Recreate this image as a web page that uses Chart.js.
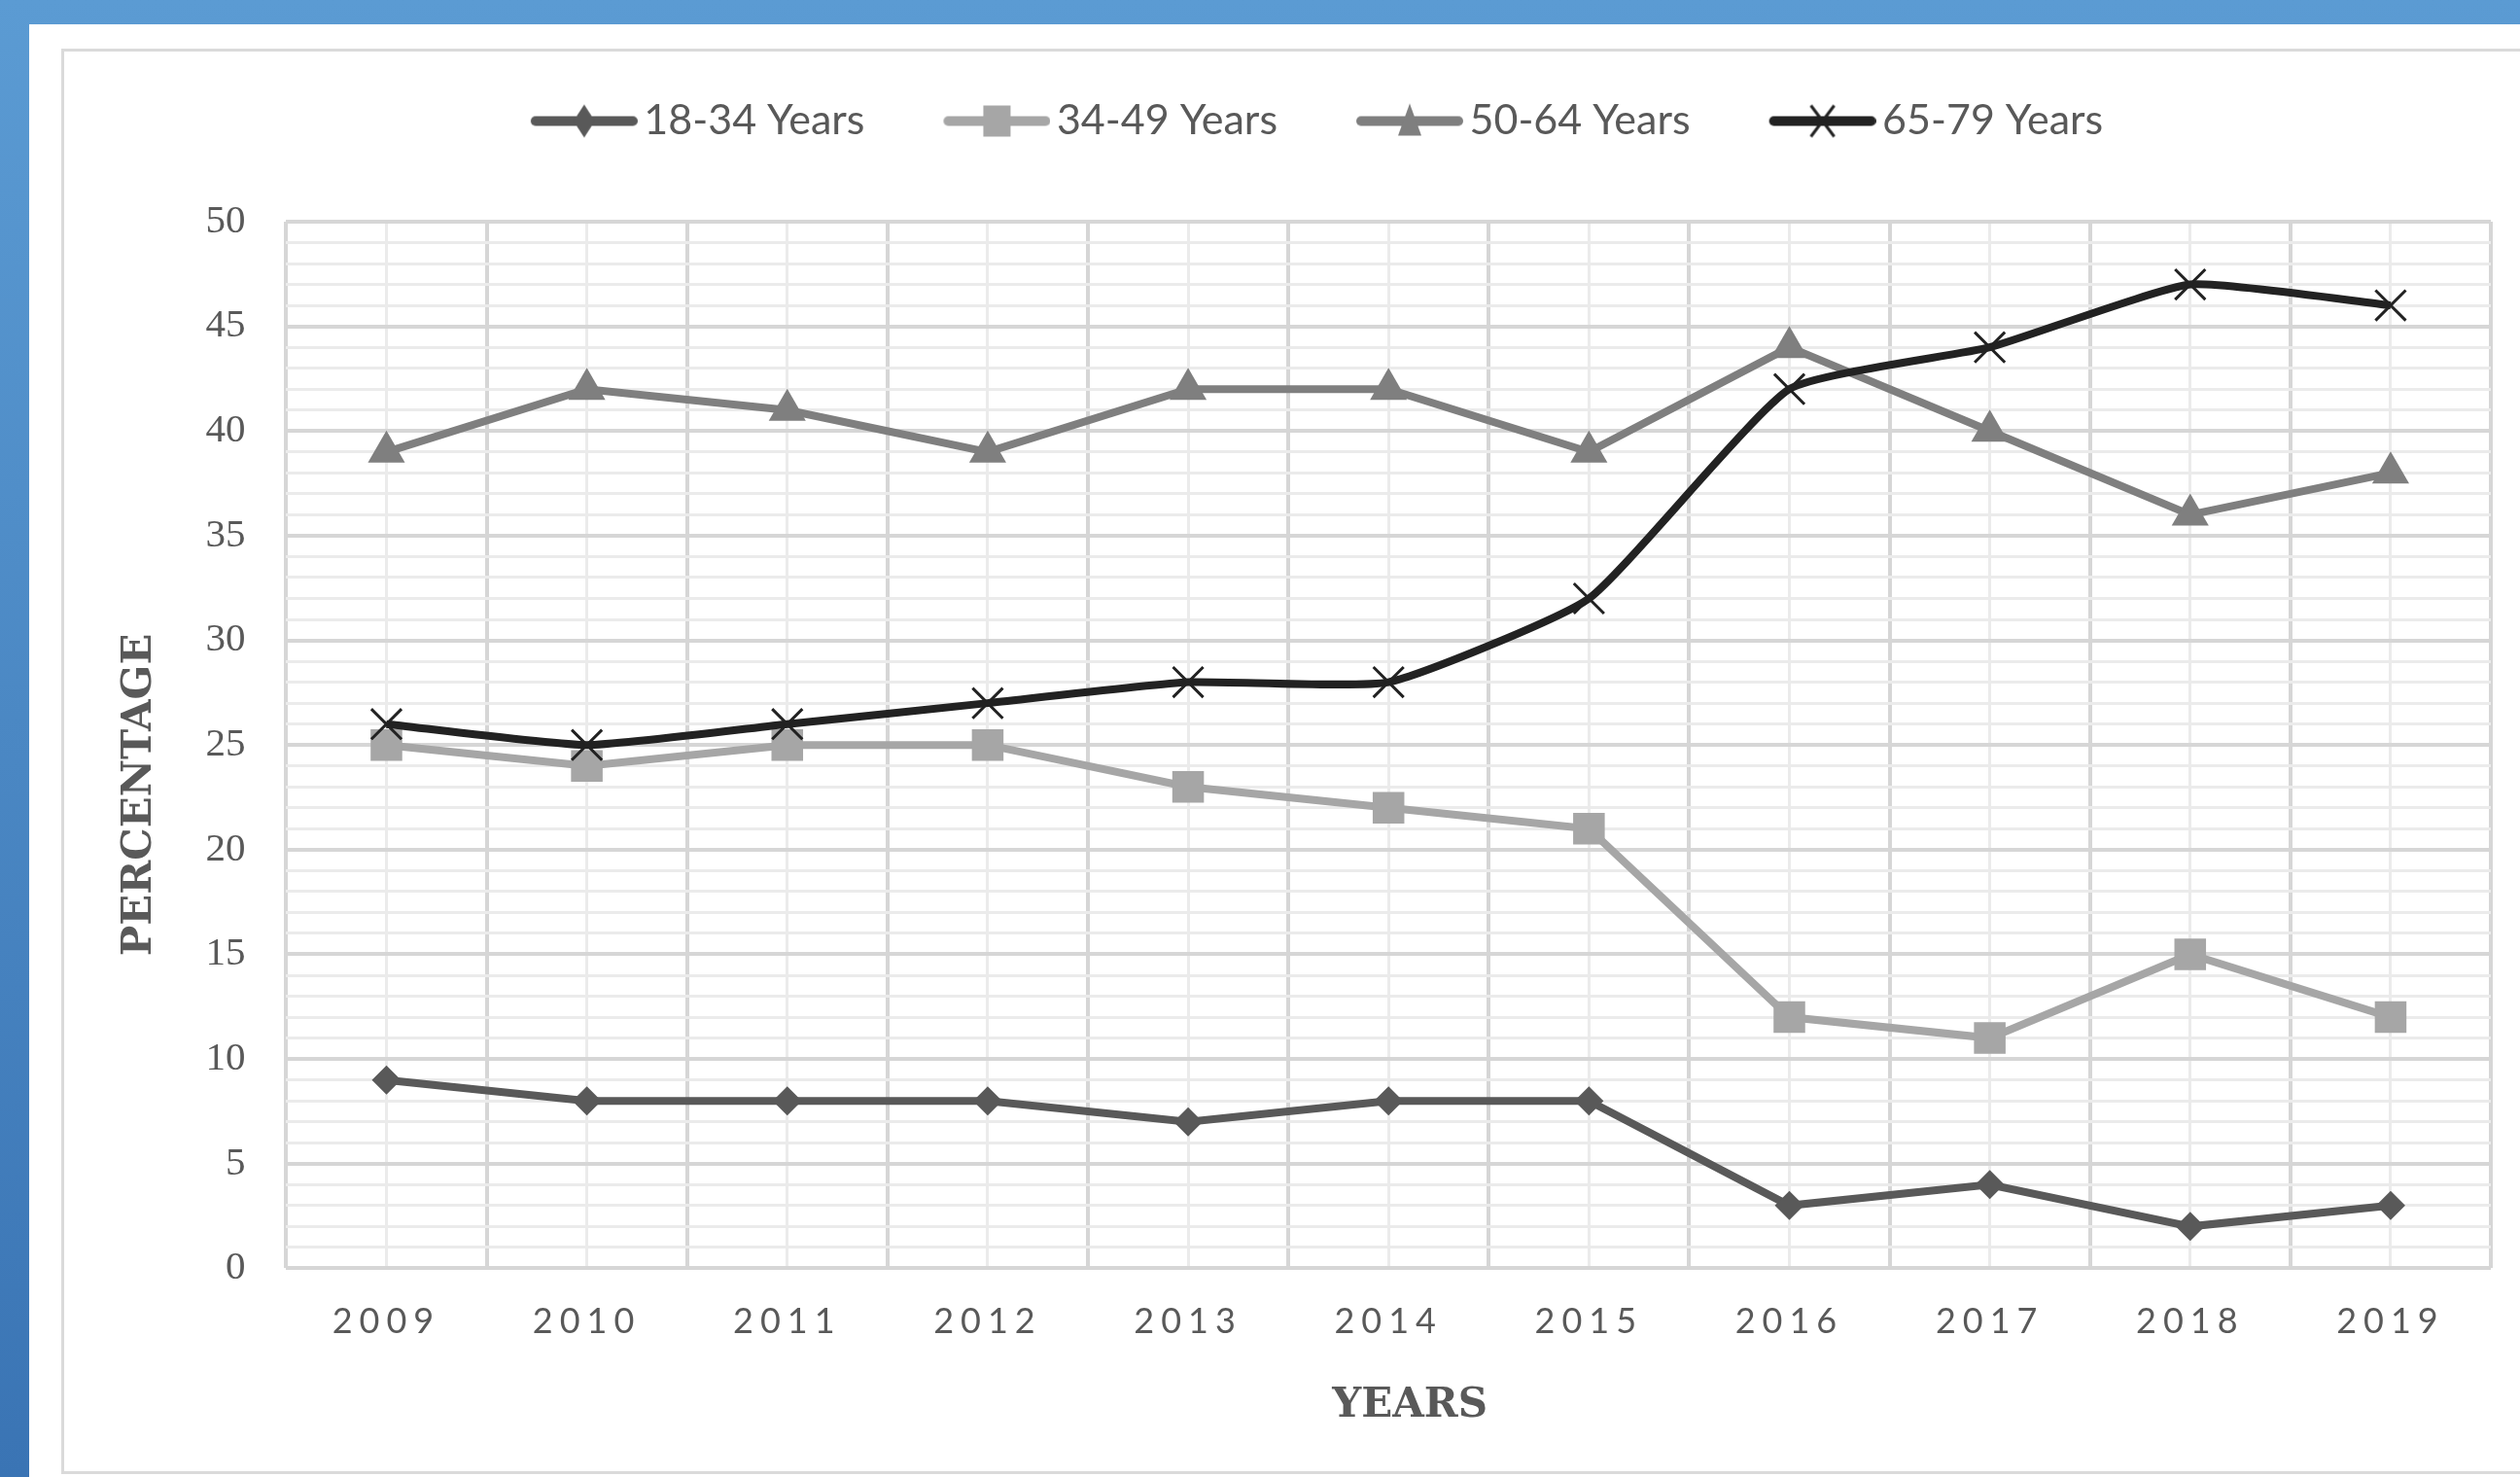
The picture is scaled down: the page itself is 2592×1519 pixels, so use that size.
<!DOCTYPE html>
<html>
<head>
<meta charset="utf-8">
<script src="https://cdn.jsdelivr.net/npm/chart.js@4.4.0/dist/chart.umd.min.js"></script>
<style>
    html, body { margin: 0; padding: 0; }
    body {
        width: 2592px; height: 1519px; overflow: hidden; position: relative;
        background: linear-gradient(to bottom, #5b9bd3, #3a74b4);
    }
    #panel { position: absolute; left: 30px; top: 25px; right: 0; bottom: 0; background: #fff; }
    #box {
        position: absolute; left: 63px; top: 50px; width: 2574px; height: 1466px;
        border: 3px solid #dadada; box-sizing: border-box; background: #fff;
    }
    #box canvas { display: block; }
</style>
</head>
<body>
<div id="panel"></div>
<div id="box"><canvas id="chartAges" width="2568" height="1460"></canvas></div>
<script>
// Datos del gráfico
const years = ['2009', '2010', '2011', '2012', '2013', '2014', '2015', '2016', '2017', '2018', '2019'];
const seriesNames = ['18-34 Years', '34-49 Years', '50-64 Years', '65-79 Years'];
const age18to34 = [9, 8, 8, 8, 7, 8, 8, 3, 4, 2, 3];
const age34to49 = [25, 24, 25, 25, 23, 22, 21, 12, 11, 15, 12];
const age50to64 = [39, 42, 41, 39, 42, 42, 39, 44, 40, 36, 38];
const age65to79 = [26, 25, 26, 27, 28, 28, 32, 42, 44, 47, 46];

const textGray = '#595959';

// Estilo de cada serie
const seriesStyles = [
    { color: '#595959', marker: 'rectRot', radius: 15, border: 0, tension: 0 },
    { color: '#a6a6a6', marker: 'rect', radius: 23, border: 0, tension: 0 },
    { color: '#7f7f7f', marker: 'triangle', radius: 22, border: 0, tension: 0 },
    { color: '#222222', marker: 'crossRot', radius: 22, border: 3, tension: 0.15 }
];
const seriesData = [age18to34, age34to49, age50to64, age65to79];

// Icono de leyenda estilo Excel: línea con marcador en el centro
const makeLegendIcon = (style) => {
    const c = document.createElement('canvas');
    c.width = 186; c.height = 40;
    const g = c.getContext('2d');
    const cx = 131, cy = 20;
    g.strokeStyle = style.color;
    g.fillStyle = style.color;
    g.lineCap = 'round';
    g.lineWidth = 10;
    g.beginPath(); g.moveTo(81, cy); g.lineTo(181, cy); g.stroke();
    g.beginPath();
    if (style.marker === 'rectRot') {
        g.moveTo(cx, cy - 17); g.lineTo(cx + 11, cy); g.lineTo(cx, cy + 17); g.lineTo(cx - 11, cy);
        g.closePath(); g.fill();
    } else if (style.marker === 'rect') {
        g.rect(cx - 14, cy - 16, 28, 32); g.fill();
    } else if (style.marker === 'triangle') {
        g.moveTo(cx, cy - 18); g.lineTo(cx + 12, cy + 15); g.lineTo(cx - 12, cy + 15);
        g.closePath(); g.fill();
    } else {
        g.lineWidth = 3; g.lineCap = 'butt';
        g.moveTo(cx - 12, cy - 16); g.lineTo(cx + 12, cy + 16);
        g.moveTo(cx + 12, cy - 16); g.lineTo(cx - 12, cy + 16);
        g.stroke();
    }
    return c;
};
const legendIcons = seriesStyles.map(makeLegendIcon);

// Espacio extra bajo la leyenda
const legendMargin = {
    id: 'legendMargin',
    beforeInit(chart) {
        const fit = chart.legend.fit;
        chart.legend.fit = function () {
            fit.bind(chart.legend)();
            this.height += 72;
        };
    }
};

// Espaciado de letras en las etiquetas del eje X
const xLabelSpacing = {
    id: 'xLabelSpacing',
    afterDatasetsDraw(chart) { chart.ctx.letterSpacing = '7px'; },
    afterDraw(chart) { chart.ctx.letterSpacing = '0px'; }
};

const datasets = seriesNames.map((name, i) => ({
    label: name,
    data: seriesData[i],
    xAxisID: 'x',
    yAxisID: 'y',
    borderColor: seriesStyles[i].color,
    backgroundColor: seriesStyles[i].color,
    borderWidth: 8,
    tension: seriesStyles[i].tension,
    pointStyle: seriesStyles[i].marker,
    pointRadius: seriesStyles[i].radius,
    pointHoverRadius: seriesStyles[i].radius,
    pointBorderWidth: seriesStyles[i].border,
    pointBackgroundColor: seriesStyles[i].color,
    pointBorderColor: seriesStyles[i].color,
    order: seriesNames.length - i,
    fill: false
}));

new Chart(document.getElementById('chartAges'), {
    type: 'line',
    data: { labels: years, datasets },
    plugins: [legendMargin, xLabelSpacing],
    options: {
        responsive: false,
        animation: false,
        layout: { padding: { top: 30, left: 20, right: 72, bottom: 42 } },
        plugins: {
            tooltip: { enabled: false },
            legend: {
                position: 'top',
                labels: {
                    usePointStyle: true,
                    pointStyleWidth: 156,
                    padding: 20,
                    color: textGray,
                    font: { family: 'Lato', size: 43 },
                    generateLabels: (chart) => chart.data.datasets.map((ds, i) => ({
                        text: ds.label,
                        fillStyle: ds.borderColor,
                        strokeStyle: ds.borderColor,
                        lineWidth: 0,
                        pointStyle: legendIcons[i],
                        fontColor: textGray,
                        hidden: false,
                        datasetIndex: i
                    }))
                }
            }
        },
        scales: {
            x: {
                type: 'category',
                offset: true,
                grid: { offset: true, color: '#d6d6d6', lineWidth: 4, drawTicks: false },
                border: { display: false },
                ticks: {
                    z: 1,
                    padding: 33,
                    color: textGray,
                    font: { family: 'Lato', size: 36 }
                },
                title: {
                    display: true,
                    text: '   YEARS',
                    color: textGray,
                    padding: { top: 7, bottom: 0 },
                    font: { family: 'DejaVu Serif', size: 42, weight: 'bold' }
                }
            },
            xc: {
                type: 'category',
                axis: 'x',
                position: 'bottom',
                offset: true,
                grid: { offset: false, color: '#ebebeb', lineWidth: 3, drawTicks: false },
                border: { display: false },
                ticks: { display: false }
            },
            y: {
                min: 0,
                max: 50,
                grid: {
                    drawTicks: false,
                    color: (ctx) => ctx.tick && ctx.tick.value % 5 === 0 ? '#d6d6d6' : '#ebebeb',
                    lineWidth: (ctx) => ctx.tick && ctx.tick.value % 5 === 0 ? 4 : 3
                },
                border: { display: false },
                ticks: {
                    stepSize: 1,
                    maxTicksLimit: 100,
                    autoSkip: false,
                    padding: 42,
                    color: textGray,
                    font: { family: 'Liberation Serif', size: 41 },
                    callback: (v) => v % 5 === 0 ? v : ''
                },
                title: {
                    display: true,
                    text: 'PERCENTAGE       ',
                    color: textGray,
                    padding: { top: 33, bottom: 0 },
                    font: { family: 'DejaVu Serif', size: 42, weight: 'bold' }
                }
            }
        }
    }
});
</script>
</body>
</html>
